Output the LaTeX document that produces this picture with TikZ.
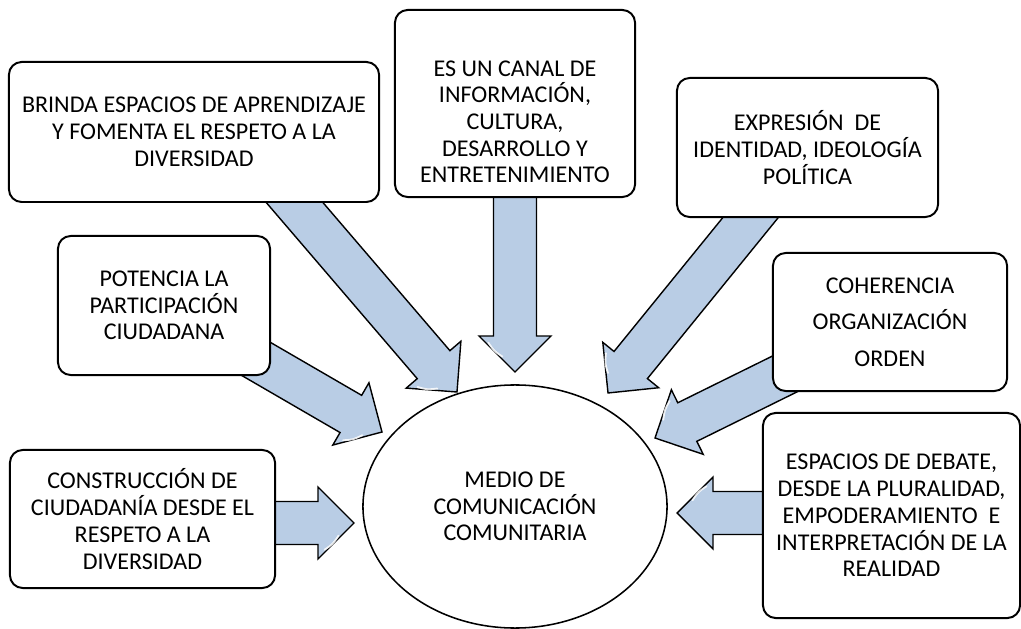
\documentclass[tikz,border=0pt]{standalone}
\usepackage{fontspec}
\setmainfont{Carlito}
\usetikzlibrary{shapes.geometric,calc,backgrounds}
\definecolor{arrowblue}{RGB}{185,205,229}
\tikzset{
  box/.style={draw, line width=1.4pt, rounded corners=9pt, fill=white, align=center, inner sep=2pt},
  txt/.style={font=\fontsize{17.1}{19}\selectfont, align=center},
  hub/.style={draw, ellipse, line width=1.1pt, fill=white, inner sep=0pt,
    minimum width=7.6cm, minimum height=6.075cm},
  bigarrow/.style={draw, line width=1pt, fill=arrowblue, line join=miter},
  gloss/.style={white, line width=1.3pt, line cap=round, opacity=0.85}
}
% block arrow from #1 to #2 (its tail is hidden under the box)
\newcommand\bigarrow[2]{%
  \path (#1) coordinate (bas) (#2) coordinate (bae);
  \pgfpointdiff{\pgfpointanchor{bas}{center}}{\pgfpointanchor{bae}{center}}%
  \pgfgetlastxy{\bdx}{\bdy}%
  \pgfmathsetmacro\bang{atan2(\bdy,\bdx)}%
  \pgfmathsetmacro\blen{veclen(\bdx,\bdy)}%
  \begin{scope}[shift={(bas)}, rotate=\bang, x=1pt, y=1pt]
    \draw[bigarrow] (-30,-15.3) -- (\blen-25.6,-15.3) -- (\blen-25.6,-25.6) -- (\blen,0)
      -- (\blen-25.6,25.6) -- (\blen-25.6,15.3) -- (-30,15.3) -- cycle;
    \draw[gloss] (\blen-21,-19) .. controls (\blen-15,-15) .. (\blen-11,-9);
  \end{scope}}
\begin{document}
\begin{tikzpicture}[x=0.025cm, y=-0.025cm]
  \useasboundingbox (0,0) rectangle (1021,629);
  % boxes
  \node[box, txt, minimum width=9.25cm, minimum height=3.5cm] (brinda) at (194,132)
    {BRINDA ESPACIOS DE APRENDIZAJE\\ Y FOMENTA EL RESPETO A LA\\ DIVERSIDAD};
  \node[box, minimum width=6cm, minimum height=4.675cm] (canal) at (515,103.5) {};
  \node[txt] (canaltxt) at ([yshift=-13pt]canal.center)
    {ES UN CANAL DE\\ INFORMACIÓN,\\ CULTURA,\\ DESARROLLO Y\\ ENTRETENIMIENTO};
  \node[box, txt, minimum width=6.525cm, minimum height=3.475cm] (expresion) at (807.5,147.5)
    {EXPRESIÓN~ DE\\ IDENTIDAD, IDEOLOGÍA\\ POLÍTICA};
  \node[box, txt, minimum width=5.3cm, minimum height=3.475cm] (potencia) at (164,305.5)
    {POTENCIA LA\\ PARTICIPACIÓN\\ CIUDADANA};
  \node[box, txt, minimum width=5.85cm, minimum height=3.45cm] (coherencia) at (890,322)
    {COHERENCIA\\[7pt] ORGANIZACIÓN\\[7pt] ORDEN};
  \node[box, txt, minimum width=6.625cm, minimum height=3.45cm] (construccion) at (142.5,519)
    {CONSTRUCCIÓN DE\\ CIUDADANÍA DESDE EL\\ RESPETO A LA\\ DIVERSIDAD};
  \node[box, txt, minimum width=6.425cm, minimum height=5.125cm] (espacios) at (891.5,515.5)
    {ESPACIOS DE DEBATE,\\ DESDE LA PLURALIDAD,\\ EMPODERAMIENTO~ E\\ INTERPRETACIÓN DE LA\\ REALIDAD};
  % centre
  \node[hub, txt] (medio) at (515,506.5) {MEDIO DE\\ COMUNICACIÓN\\ COMUNITARIA};
  % arrow tips
  \coordinate (tipA) at (457,392);
  \coordinate (tipB) at (515,372);
  \coordinate (tipC) at (608,393);
  \coordinate (tipD) at (655,438);
  \coordinate (tipE) at (382,432);
  \coordinate (tipF) at (354,523);
  \coordinate (tipG) at (677,513);
  \begin{scope}[on background layer]
    \bigarrow{$(brinda.south)+(101,0)$}{tipA}
    \bigarrow{canal.south}{tipB}
    \bigarrow{expresion.center}{tipC}
    \bigarrow{coherencia.center}{tipD}
    \bigarrow{potencia.center}{tipE}
    \bigarrow{construccion.east |- tipF}{tipF}
    \bigarrow{espacios.west |- tipG}{tipG}
  \end{scope}
\end{tikzpicture}
\end{document}
